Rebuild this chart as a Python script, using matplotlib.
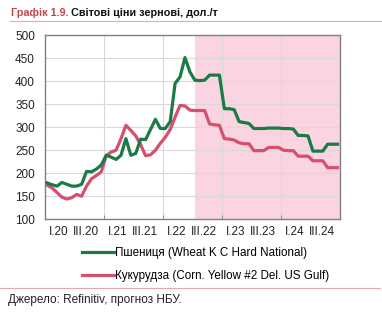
import matplotlib
matplotlib.use("Agg")
import matplotlib.pyplot as plt
from matplotlib.lines import Line2D
from matplotlib.ticker import FixedLocator

plt.rcParams['font.family'] = ['Liberation Sans', 'DejaVu Sans']

# Monthly data Jan 2020 .. Dec 2024 (index 0..59)
wheat = [179, 175, 172, 180, 176, 172, 172, 176, 204, 203,
         209, 218, 239, 235, 230, 239, 275, 239, 243, 274,
         273, 295, 317, 297, 297, 312, 395, 409, 451, 420,
         402, 401, 402, 413, 413, 413, 340, 340, 338, 312,
         310, 308, 297, 297, 297, 298, 298, 298, 297, 297,
         296, 282, 282, 281, 248, 248, 248, 263, 263, 263]
corn = [174, 168, 158, 148, 144, 147, 154, 150, 172, 188,
        195, 203, 238, 246, 250, 275, 304, 293, 281, 262,
        238, 240, 250, 265, 278, 295, 322, 347, 346, 337,
        336, 336, 336, 307, 305, 304, 275, 274, 272, 266,
        264, 264, 249, 249, 249, 256, 256, 256, 250, 249,
        249, 237, 237, 237, 227, 227, 227, 212, 212, 212]
tick_labels = ['I.20', 'III.20', 'I.21', 'III.21', 'I.22', 'III.22',
               'I.23', 'III.23', 'I.24', 'III.24']
wheat_label = 'Пшениця (Wheat K C Hard National)'
corn_label = 'Кукурудза (Corn. Yellow #2 Del. US Gulf)'
forecast_start = 30.6

W, H = 382, 321
fig = plt.figure(figsize=(W / 100, H / 100), dpi=100)
ax = fig.add_axes([44.7 / W, 1 - 219.3 / H, (340 - 44.7) / W, (219.3 - 35) / H])

green = '#1b7a47'
red = '#d4506e'
n = len(wheat)
x = [i + 0.5 for i in range(n)]

ax.axvspan(forecast_start, n, color='#fad4e1', lw=0, zorder=0)
ax.plot(x, corn, color=red, lw=2.3, solid_joinstyle='round', zorder=3)
ax.plot(x, wheat, color=green, lw=2.3, solid_joinstyle='round', zorder=4)

ax.set_xlim(0, n)
ax.set_ylim(100, 500)
ax.set_yticks(range(100, 501, 50))
ax.yaxis.set_tick_params(length=0, pad=7, labelsize=8.5, labelcolor='#222222')
ax.grid(axis='y', color='#d9d9d9', lw=0.8, zorder=1)

# year boundaries: gridlines and small ticks
ax.xaxis.set_minor_locator(FixedLocator([12, 24, 36, 48]))
ax.grid(axis='x', which='minor', color='#d9d9d9', lw=0.8, zorder=1)
ax.tick_params(axis='x', which='minor', length=3, direction='in', color='#808080')

pos = []
for k in range(5):
    pos += [12 * k + 2.8, 12 * k + 8.3]
ax.set_xticks(pos)
ax.set_xticklabels(tick_labels)
ax.tick_params(axis='x', which='major', length=0, pad=5, labelsize=8.5, labelcolor='#222222')
ax.set_axisbelow(True)
for s in ax.spines.values():
    s.set_color('#808080')
    s.set_linewidth(1.0)

handles = [Line2D([], [], color=green, lw=2.3), Line2D([], [], color=red, lw=2.3)]
fig.legend(handles, [wheat_label, corn_label], loc='upper left',
           bbox_to_anchor=(82 / W, 1 - 247 / H), frameon=False, fontsize=8.4,
           handlelength=2.75, handletextpad=0.1, labelspacing=0.95,
           borderaxespad=0, borderpad=0)

fig.text(11 / W, 1 - 12.5 / H, 'Графік 1.9.', color='#c5484f', fontsize=7.8,
         fontweight='bold', va='center', ha='left')
fig.text(71 / W, 1 - 12.5 / H, 'Світові ціни зернові, дол./т', color='#111111',
         fontsize=7.8, fontweight='bold', va='center', ha='left')
fig.add_artist(Line2D([10 / W, 1.0], [1 - 21 / H, 1 - 21 / H], color='#e3a9ae', lw=0.8))
fig.add_artist(Line2D([0, 380 / W], [1 - 288 / H, 1 - 288 / H], color='#e3a9ae', lw=0.8))
fig.text(8 / W, 1 - 300 / H, 'Джерело: Refinitiv, прогноз НБУ.', color='#222222',
         fontsize=8.5, va='center', ha='left')

fig.savefig('out.png', dpi=100)
